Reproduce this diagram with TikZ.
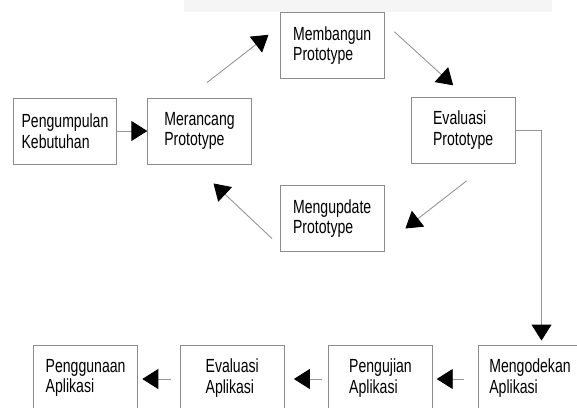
\documentclass[tikz,border=0pt]{standalone}
\usepackage{fontspec}
\setmainfont{Liberation Sans}[FakeStretch=0.74]
\usetikzlibrary{arrows.meta,calc}
\definecolor{boxgray}{RGB}{140,140,140}
\definecolor{linegray}{RGB}{150,150,150}
\definecolor{bandgray}{RGB}{245,245,245}
\begin{document}
\begin{tikzpicture}[x=1pt,y=-1pt,
  box/.style={draw=boxgray, line width=0.9pt, minimum width=103.5pt, minimum height=66pt,
    align=left, inner sep=0pt, font=\fontsize{19}{20.5}\selectfont},
  conn/.style={draw=linegray, line width=0.9pt, -{Triangle[length=16pt,width=20pt,color=black]}}]
\useasboundingbox (0,0) rectangle (577,407);
\fill[bandgray] (184,0) rectangle (552,12);
% nodes
\node[box] (peng) at (65,131) {Pengumpulan\\Kebutuhan};
\node[box] (mer) at (199.5,131) {Merancang\\Prototype};
\node[box] (mem) at (332.2,45.8) {Membangun\\Prototype};
\node[box] (evp) at (463.2,130.3) {Evaluasi\\Prototype};
\node[box] (upd) at (332.2,218.5) {Mengupdate\\Prototype};
\node[box] (pgn) at (85.6,378) {Penggunaan\\Aplikasi};
\node[box] (eva) at (232.2,378) {Evaluasi\\Aplikasi};
\node[box] (uji) at (380.5,378) {Pengujian\\Aplikasi};
\node[box] (kode) at (530,378) {Mengodekan\\Aplikasi};
% connectors
\draw[conn] (peng.east) -- (mer.west);
\draw[conn] ($(mer.north)+(7.5,-15)$) -- ($(mem.west)+(-11.5,-11)$);
\draw[conn] ($(mem.east)+(10,-14)$) -- ($(evp.north)+(-10,-11.5)$);
\draw[conn] ($(evp.south)+(3.5,17)$) -- ($(upd.east)+(21,10)$);
\draw[conn] ($(upd.west)+(-8,20)$) -- ($(mer.south)+(14,19)$);
\draw[conn] (evp.east) -| ($(kode.north)+(11.5,-4)$);
\draw[conn] ($(kode.west)+(-14,1)$) -- ($(uji.east)+(4,1)$);
\draw[conn] ($(uji.west)+(-6,1)$) -- ($(eva.east)+(9.5,1)$);
\draw[conn] ($(eva.west)+(-9.5,1)$) -- ($(pgn.east)+(4.5,1)$);
\end{tikzpicture}
\end{document}
